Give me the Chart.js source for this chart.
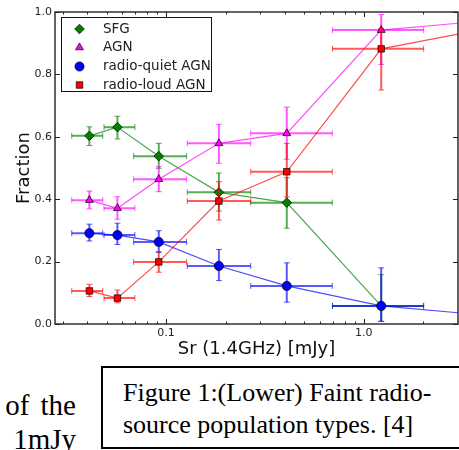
<!DOCTYPE html>
<html>
<head>
<meta charset="utf-8">
<script src="https://cdn.jsdelivr.net/npm/chart.js@4"></script>
<style>
  body { margin: 0; width: 459px; height: 450px; overflow: hidden; background: #fff; position: relative; }
  #wrap { position: absolute; left: 0; top: 0; width: 459px; height: 365px; }
  .serif { position: absolute; font-family: "Liberation Serif", "Times New Roman", serif; color: #000; white-space: nowrap; }
  #sideText { left: 0; top: 388px; width: 76px; font-size: 29px; line-height: 34px; text-align: right; word-spacing: 4px; }
  #captionBox { position: absolute; left: 101px; top: 366px; width: 420px; height: 83px; box-sizing: border-box; border: 2px solid #000; }
  #caption { left: 123px; top: 377px; font-size: 26px; line-height: 32px; }
</style>
</head>
<body>
<div id="wrap"><canvas id="chart" width="459" height="365"></canvas></div>
<div class="serif" id="sideText">of the<br>1mJy</div>
<div id="captionBox"></div>
<div class="serif" id="caption">Figure 1:(Lower) Faint radio-<br>source population types. [4]</div>

<script>
// 데이터
const seriesNames = ['SFG', 'AGN', 'radio-quiet AGN', 'radio-loud AGN'];

// 플럭스 구간 (mJy)
const binCentres = [0.0409, 0.0567, 0.0918, 0.185, 0.408, 1.226];
const binLow     = [0.0333, 0.0485, 0.0685, 0.128, 0.268, 0.695];
const binHigh    = [0.0478, 0.0695, 0.127, 0.268, 0.693, 2.01];

const sfgFrac  = [0.603, 0.631, 0.538, 0.422, 0.389, 0.058];
const sfgErrLo = [0.031, 0.038, 0.039, 0.060, 0.082, 0.050];
const sfgErrHi = [0.029, 0.035, 0.041, 0.062, 0.080, 0.100];

const agnFrac  = [0.397, 0.371, 0.464, 0.579, 0.611, 0.942];
const agnErrLo = [0.028, 0.035, 0.040, 0.064, 0.083, 0.110];
const agnErrHi = [0.029, 0.037, 0.040, 0.061, 0.084, 0.050];

const rqFrac   = [0.291, 0.285, 0.263, 0.186, 0.122, 0.058];
const rqErrLo  = [0.025, 0.030, 0.034, 0.047, 0.052, 0.049];
const rqErrHi  = [0.029, 0.038, 0.036, 0.053, 0.074, 0.122];

const rlFrac   = [0.106, 0.083, 0.199, 0.394, 0.488, 0.882];
const rlErrLo  = [0.018, 0.015, 0.033, 0.061, 0.081, 0.132];
const rlErrHi  = [0.021, 0.026, 0.033, 0.062, 0.091, 0.065];

// 오른쪽 축 끝에서의 선 값 (다음 구간은 그림 밖)
const edgeFrac = [null, 0.964, 0.036, 0.929];

// 축 / 눈금
const X_MIN = 0.0274, X_MAX = 3.0;
const xMajorTicks = [0.1, 1];
const xTickLabels = ['0.1', '1.0'];
const xMinorTicks = [0.03, 0.04, 0.05, 0.06, 0.07, 0.08, 0.09, 0.2, 0.3, 0.4, 0.5, 0.6, 0.7, 0.8, 0.9, 2, 3];
const yTicks = [0, 0.2, 0.4, 0.6, 0.8, 1.0];
const yTickLabels = ['0.0', '0.2', '0.4', '0.6', '0.8', '1.0'];

// 스타일
const seriesStyle = [
  { rgb: '0,128,0',   point: 'rectRot',  r: 4.8 },
  { rgb: '255,0,255', point: 'triangle', r: 4.6 },
  { rgb: '0,0,255',   point: 'circle',   r: 4.6 },
  { rgb: '255,0,0',   point: 'rect',     r: 4.6 }
];

const fracs  = [sfgFrac, agnFrac, rqFrac, rlFrac];
const errLos = [sfgErrLo, agnErrLo, rqErrLo, rlErrLo];
const errHis = [sfgErrHi, agnErrHi, rqErrHi, rlErrHi];

const series = seriesNames.map((name, k) => ({
  name, y: fracs[k], lo: errLos[k], hi: errHis[k], edge: edgeFrac[k], ...seriesStyle[k]
}));

Chart.defaults.font.family = '"DejaVu Sans", sans-serif';
Chart.defaults.color = '#222';

// 오차 막대: 각 데이터셋 직전에 그림
const errorBars = {
  id: 'errorBars',
  beforeDatasetDraw(chart, args) {
    const s = series[args.index];
    const { ctx, chartArea: a, scales: { x, y } } = chart;
    ctx.save();
    ctx.beginPath();
    ctx.rect(a.left, a.top, a.right - a.left, a.bottom - a.top);
    ctx.clip();
    ctx.strokeStyle = `rgba(${s.rgb},0.65)`;
    for (let i = 0; i < binCentres.length; i++) {
      const px = x.getPixelForValue(binCentres[i]);
      const py = y.getPixelForValue(s.y[i]);
      const x0 = x.getPixelForValue(binLow[i]);
      const x1 = x.getPixelForValue(binHigh[i]);
      const y0 = y.getPixelForValue(s.y[i] - s.lo[i]);
      const y1 = y.getPixelForValue(s.y[i] + s.hi[i]);
      ctx.lineWidth = 2;
      ctx.beginPath();
      ctx.moveTo(x0, py); ctx.lineTo(x1, py);
      ctx.moveTo(px, y0); ctx.lineTo(px, y1);
      ctx.stroke();
      ctx.lineWidth = 1;
      ctx.beginPath();
      ctx.moveTo(x0, py - 3); ctx.lineTo(x0, py + 3);
      ctx.moveTo(x1, py - 3); ctx.lineTo(x1, py + 3);
      ctx.moveTo(px - 3, y0); ctx.lineTo(px + 3, y0);
      ctx.moveTo(px - 3, y1); ctx.lineTo(px + 3, y1);
      ctx.stroke();
    }
    ctx.restore();
  }
};

// 테두리, 안쪽 눈금, 범례
const frameAndLegend = {
  id: 'frameAndLegend',
  afterDraw(chart) {
    const { ctx, chartArea: a, scales: { x, y } } = chart;
    ctx.save();
    ctx.strokeStyle = '#222';
    ctx.lineWidth = 1;
    ctx.beginPath();
    const xTick = (v, len) => {
      const px = Math.round(x.getPixelForValue(v)) + 0.5;
      ctx.moveTo(px, a.bottom); ctx.lineTo(px, a.bottom - len);
      ctx.moveTo(px, a.top); ctx.lineTo(px, a.top + len);
    };
    xMajorTicks.forEach(v => xTick(v, 5));
    xMinorTicks.filter(v => v > X_MIN && v < X_MAX).forEach(v => xTick(v, 2.5));
    yTicks.forEach(v => {
      const py = Math.round(y.getPixelForValue(v)) + 0.5;
      ctx.moveTo(a.left, py); ctx.lineTo(a.left + 5, py);
      ctx.moveTo(a.right, py); ctx.lineTo(a.right - 5, py);
    });
    ctx.stroke();
    ctx.lineWidth = 1.4;
    ctx.strokeRect(a.left, a.top, a.right - a.left, a.bottom - a.top);

    // 범례
    const lx = 61.5, ly = 17.5, lw = 150, lh = 74;
    ctx.fillStyle = '#fff';
    ctx.fillRect(lx, ly, lw, lh);
    ctx.lineWidth = 1;
    ctx.strokeStyle = '#111';
    ctx.strokeRect(lx, ly, lw, lh);
    const rowY = [29, 47.5, 66.5, 85];
    series.forEach((s, k) => {
      ctx.fillStyle = `rgb(${s.rgb})`;
      ctx.strokeStyle = '#000';
      ctx.lineWidth = 0.7;
      Chart.helpers.drawPoint(ctx, { pointStyle: s.point, radius: s.r, rotation: 0, borderWidth: 0.7 }, 79.5, rowY[k]);
      ctx.fillStyle = '#222';
      ctx.font = '13.5px "DejaVu Sans", sans-serif';
      ctx.textBaseline = 'middle';
      ctx.textAlign = 'left';
      ctx.fillText(s.name, 103, rowY[k]);
    });
    ctx.restore();
  }
};

const datasets = series.map((s, k) => {
  const data = binCentres.map((xv, i) => ({ x: xv, y: s.y[i] }));
  if (s.edge !== null) data.push({ x: X_MAX, y: s.edge });
  return {
    label: s.name,
    data,
    showLine: true,
    borderColor: `rgba(${s.rgb},0.7)`,
    borderWidth: 1.2,
    pointStyle: s.point,
    pointRadius: data.map((_, i) => (i < binCentres.length ? s.r : 0)),
    pointBackgroundColor: `rgb(${s.rgb})`,
    pointBorderColor: '#000',
    pointBorderWidth: 0.7,
    order: 4 - k
  };
});

new Chart(document.getElementById('chart'), {
  type: 'scatter',
  data: { datasets },
  options: {
    responsive: false,
    animation: false,
    // 점 크기만큼의 자동 여백을 끄고 여백을 직접 지정
    layout: { autoPadding: false, padding: { top: 12, right: 1, left: 0, bottom: 0 } },
    plugins: { legend: { display: false }, tooltip: { enabled: false } },
    scales: {
      x: {
        type: 'logarithmic',
        min: X_MIN,
        max: X_MAX,
        afterBuildTicks: s => { s.ticks = xMajorTicks.map(v => ({ value: v })); },
        afterFit: s => { s.height = 41; },
        ticks: {
          callback: v => xTickLabels[xMajorTicks.indexOf(v)],
          font: { size: 11 },
          color: '#222',
          padding: 3,
          maxRotation: 0,
          autoSkip: false
        },
        grid: { display: false, drawTicks: false },
        border: { display: false },
        title: { display: true, text: 'Sr (1.4GHz) [mJy]', font: { size: 18 }, color: '#111', padding: { top: 0, bottom: 5 } }
      },
      y: {
        min: 0,
        max: 1,
        afterBuildTicks: s => { s.ticks = yTicks.map(v => ({ value: v })); },
        afterFit: s => { s.width = 55; },
        ticks: {
          callback: (v, i) => yTickLabels[i],
          font: { size: 11 },
          color: '#222',
          padding: 3
        },
        grid: { display: false, drawTicks: false },
        border: { display: false },
        title: { display: true, text: 'Fraction', font: { size: 18 }, color: '#111', padding: { top: 14, bottom: 0 } }
      }
    }
  },
  plugins: [errorBars, frameAndLegend]
});
</script>
</body>
</html>
